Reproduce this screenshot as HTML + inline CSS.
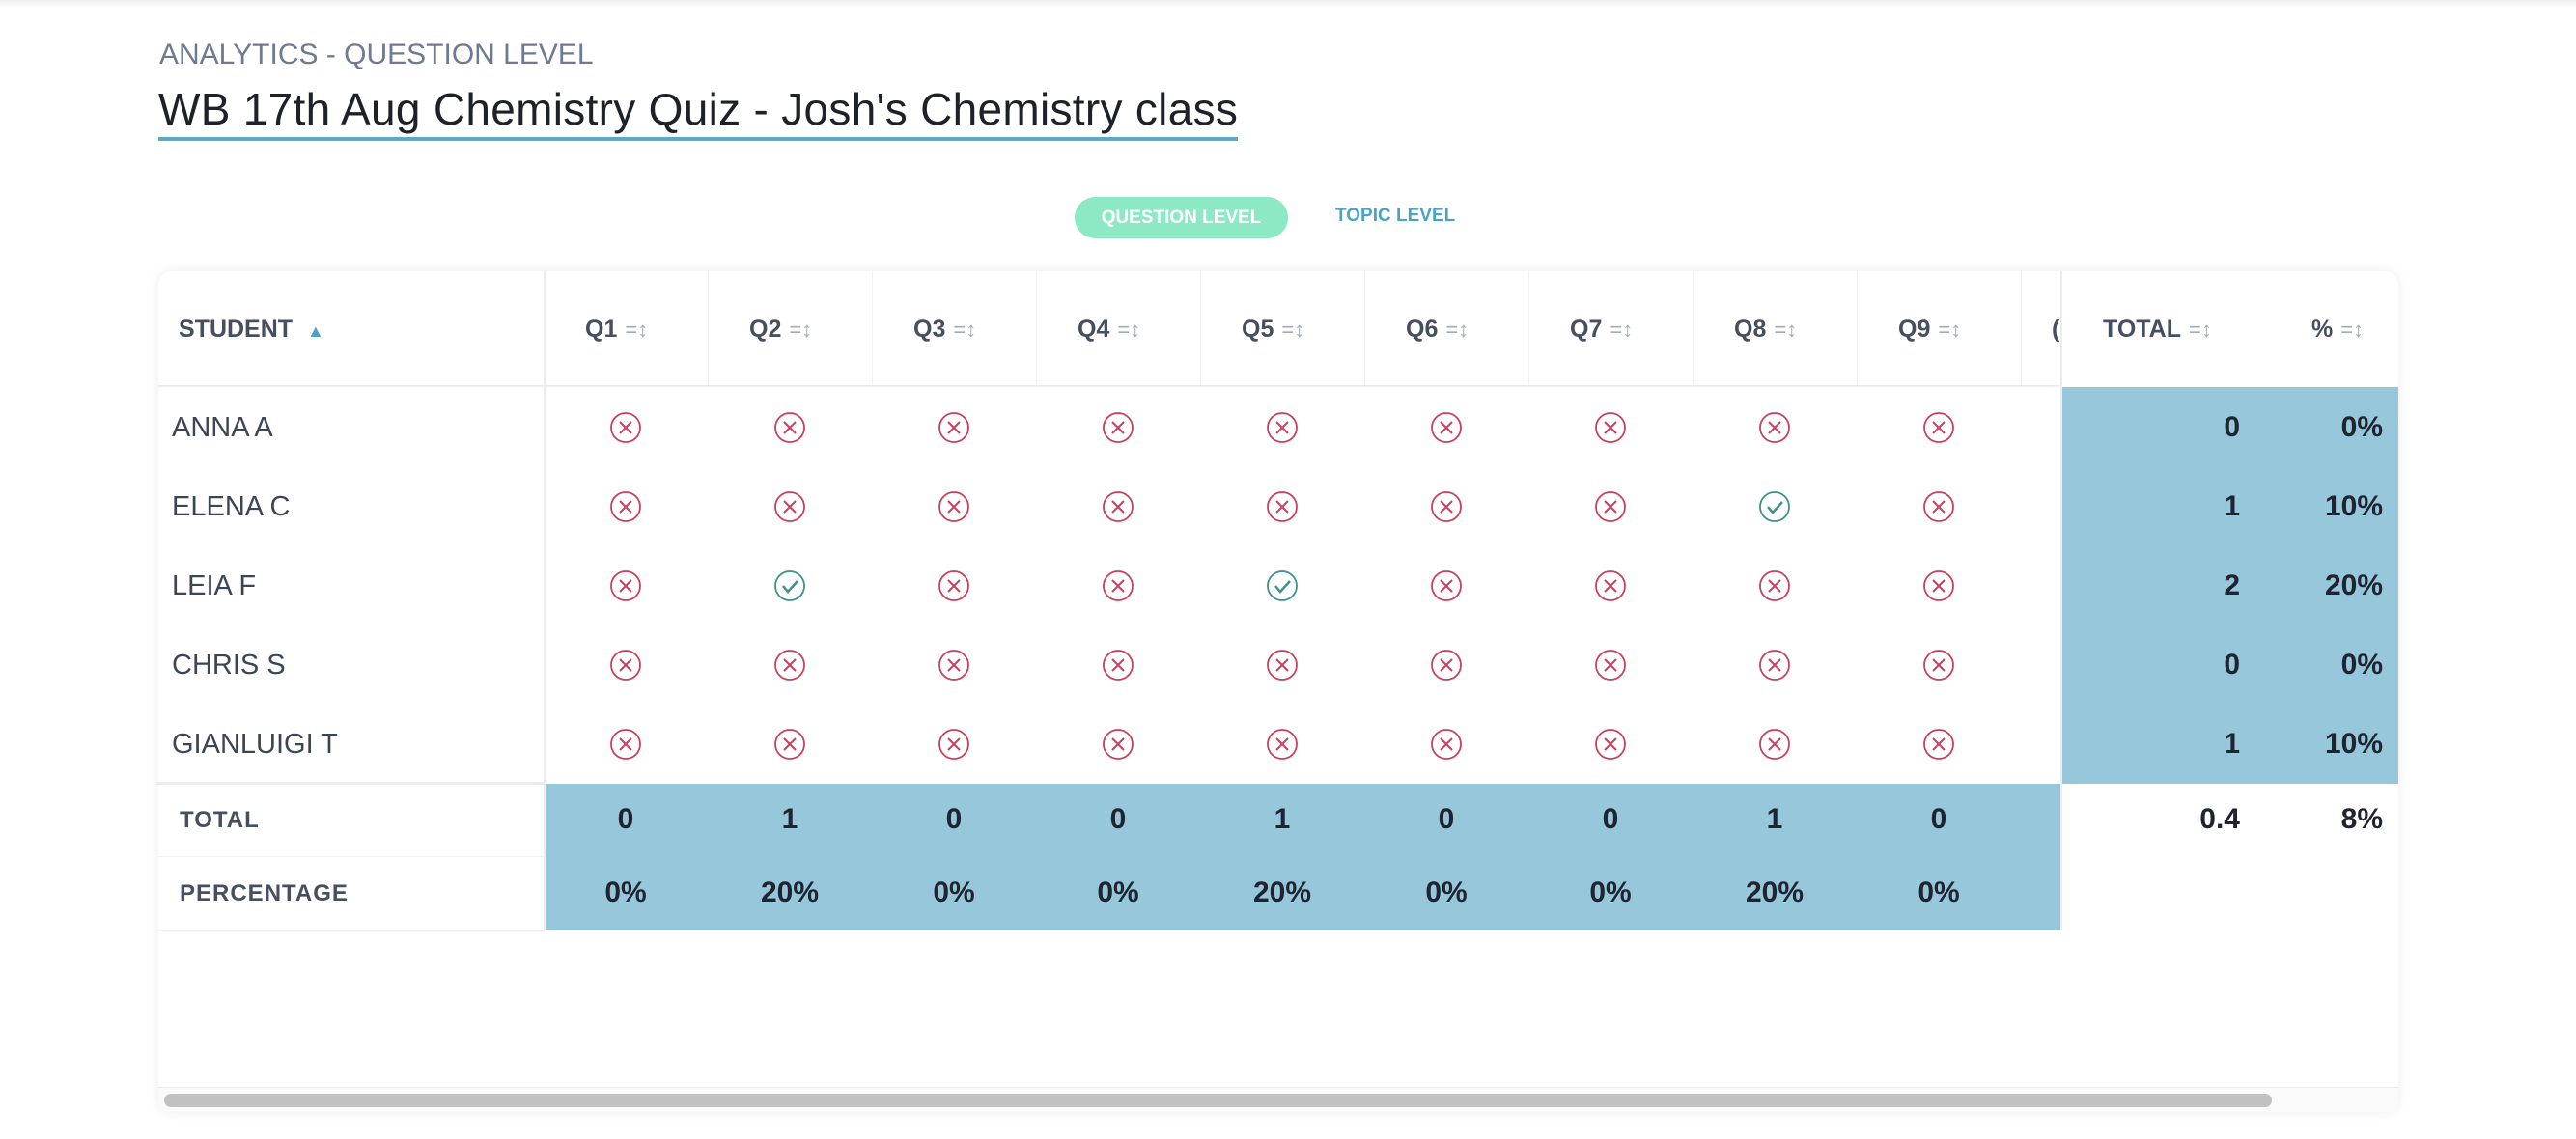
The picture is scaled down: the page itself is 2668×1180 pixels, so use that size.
<!DOCTYPE html>
<html><head><meta charset="utf-8"><style>
*{margin:0;padding:0;box-sizing:border-box}
body{width:2668px;height:1180px;background:#fff;position:relative;overflow:hidden;font-family:"Liberation Sans",sans-serif}
.a{position:absolute}
.topbar{left:0;top:0;width:2668px;height:8px;background:linear-gradient(#f0f0f0,#fff)}
.card{left:164px;top:281px;width:2320px;height:871px;border-radius:14px;box-shadow:0 0 12px rgba(0,0,0,.08);background:#fff;overflow:hidden}
.blue{background:#96c7da}
.hd{font-weight:bold;color:#454f60;font-size:25px}
.ic{color:#a0aabb;font-size:22px;font-weight:normal;margin-left:8px}
.name{font-size:29px;color:#3c4556;left:178px}
.num{font-weight:bold;font-size:30px;color:#1f2430;text-align:center;width:170px}
.numr{font-weight:bold;font-size:30px;color:#1f2430;text-align:right}
.lab{font-weight:bold;font-size:24px;color:#454f60;letter-spacing:1px;left:186px}
</style></head><body>
<div class="a topbar"></div>
<div class="a" style="left:165px;top:40px;font-size:30px;color:#6d7a90">ANALYTICS - QUESTION LEVEL</div>
<div class="a" style="left:164px;top:86px;font-size:46px;color:#1e2128;letter-spacing:0.3px">WB 17th Aug Chemistry Quiz - Josh's Chemistry class</div>
<div class="a" style="left:164px;top:142px;width:1118px;height:4px;background:#5ba8c9"></div>
<div class="a" style="left:1113px;top:204px;width:221px;height:43px;border-radius:22px;background:#8de8c4;color:#fff;font-weight:bold;font-size:19px;text-align:center;line-height:43px">QUESTION LEVEL</div>
<div class="a" style="left:1383px;top:213px;color:#4aa3c4;font-weight:bold;font-size:19px">TOPIC LEVEL</div>
<div class="a card"></div>
<div class="a blue" style="left:2135px;top:401px;width:349px;height:411px"></div>
<div class="a blue" style="left:564px;top:812px;width:1571px;height:151px"></div>
<div class="a" style="left:164px;top:399px;width:1971px;height:3px;background:linear-gradient(#e6e6e6,#fff)"></div>
<div class="a" style="left:162px;top:810px;width:402px;height:3px;background:#ececec"></div>
<div class="a" style="left:563px;top:281px;width:2px;height:682px;background:#ececec"></div>
<div class="a" style="left:2134px;top:281px;width:2px;height:682px;background:#ececec"></div>
<div class="a" style="left:164px;top:887px;width:400px;height:1px;background:#f3f3f3"></div>
<div class="a" style="left:164px;top:963px;width:400px;height:1px;background:#f3f3f3"></div>
<div class="a hd" style="left:185px;top:327px">STUDENT <span style="color:#4aa3c4;font-size:18px;margin-left:8px">&#9650;</span></div>
<div id="g"></div>
<div class="a hd" style="left:2178px;top:327px">TOTAL<span class="ic">=&#8597;</span></div>
<div class="a hd" style="left:2394px;top:327px">%<span class="ic">=&#8597;</span></div>
<div class="a hd" style="left:2125px;top:327px">(</div>
<div class="a name" style="top:427px">ANNA A</div>
<div class="a name" style="top:509px">ELENA C</div>
<div class="a name" style="top:591px">LEIA F</div>
<div class="a name" style="top:673px">CHRIS S</div>
<div class="a name" style="top:755px">GIANLUIGI T</div>
<div class="a lab" style="top:836px">TOTAL</div>
<div class="a lab" style="top:912px">PERCENTAGE</div>
<div class="a numr" style="left:2220px;width:100px;top:426px">0</div>
<div class="a numr" style="left:2220px;width:100px;top:508px">1</div>
<div class="a numr" style="left:2220px;width:100px;top:590px">2</div>
<div class="a numr" style="left:2220px;width:100px;top:672px">0</div>
<div class="a numr" style="left:2220px;width:100px;top:754px">1</div>
<div class="a numr" style="left:2320px;width:148px;top:426px">0%</div>
<div class="a numr" style="left:2320px;width:148px;top:508px">10%</div>
<div class="a numr" style="left:2320px;width:148px;top:590px">20%</div>
<div class="a numr" style="left:2320px;width:148px;top:672px">0%</div>
<div class="a numr" style="left:2320px;width:148px;top:754px">10%</div>
<div class="a numr" style="left:2220px;width:100px;top:832px">0.4</div>
<div class="a numr" style="left:2320px;width:148px;top:832px">8%</div>
<div class="a" style="left:164px;top:1126px;width:2320px;height:26px;background:#fafafa;border-top:1px solid #eee"></div>
<div class="a" style="left:170px;top:1133px;width:2183px;height:14px;border-radius:7px;background:#c1c1c1"></div>
<svg class="a" style="left:0;top:0" width="2668" height="1180">
<g id="s"></g>
</svg>
<script>
var hd='',s='';
var ok={'2,1':1,'2,4':1,'1,7':1};
var tot=[0,1,0,0,1,0,0,1,0];
for(var c=0;c<9;c++){
 var cx=648+170*c, x0=563+170*c;
 hd+='<div class="a hd" style="left:'+(cx-42)+'px;top:327px">Q'+(c+1)+'<span class="ic">=&#8597;</span></div>';
 if(c>0) hd+='<div class="a" style="left:'+x0+'px;top:281px;width:1px;height:118px;background:#f2f2f2"></div>';
 hd+='<div class="a num" style="left:'+x0+'px;top:832px">'+tot[c]+'</div>';
 hd+='<div class="a num" style="left:'+x0+'px;top:908px">'+(tot[c]?'20%':'0%')+'</div>';
 for(var r=0;r<5;r++){
  var cy=443+82*r;
  if(ok[r+','+c]) s+='<circle cx="'+cx+'" cy="'+cy+'" r="15" fill="none" stroke="#3d9188" stroke-width="1.8"/><path d="M'+(cx-7)+' '+cy+' l5 6 l10 -11" fill="none" stroke="#3d9188" stroke-width="2.5"/>';
  else s+='<circle cx="'+cx+'" cy="'+cy+'" r="15" fill="none" stroke="#c8405e" stroke-width="1.8"/><path d="M'+(cx-6)+' '+(cy-6)+' l12 12 M'+(cx+6)+' '+(cy-6)+' l-12 12" stroke="#c8405e" stroke-width="2"/>';
 }
}
hd+='<div class="a" style="left:2093px;top:281px;width:1px;height:118px;background:#f2f2f2"></div>';
document.getElementById('g').innerHTML=hd;
document.getElementById('s').innerHTML=s;
</script>
</body></html>
